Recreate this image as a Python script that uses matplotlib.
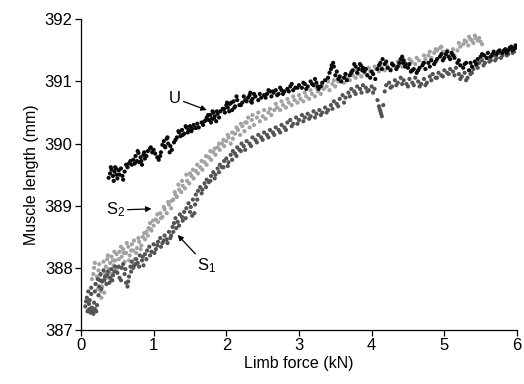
import matplotlib
matplotlib.use("Agg")
import matplotlib.pyplot as plt

plt.rcParams['font.family'] = ['Liberation Sans', 'DejaVu Sans']
plt.rcParams['mathtext.default'] = 'regular'

# ---- Data ----
# U (unstimulated), black
u_x = [0.38, 0.40, 0.42, 0.44, 0.46, 0.47, 0.49, 0.50, 0.52, 0.55, 0.58, 0.60,
       0.64, 0.66, 0.70, 0.72, 0.75, 0.77, 0.79, 0.80, 0.82, 0.84, 0.86, 0.88,
       0.92, 0.95, 0.98, 1.02, 1.05, 1.07, 1.09, 1.12, 1.14, 1.16, 1.18, 1.20, 1.23, 1.25,
       1.28, 1.32, 1.35, 1.37, 1.39, 1.42, 1.45, 1.48, 1.50, 1.52, 1.55, 1.58, 1.62,
       1.66, 1.70, 1.73, 1.76, 1.78, 1.80, 1.82, 1.84, 1.86, 1.88,
       1.92, 1.95, 1.98, 2.00, 2.02, 2.05, 2.08, 2.10, 2.12, 2.15, 2.18,
       2.22, 2.26, 2.30, 2.32, 2.34, 2.36, 2.40, 2.44, 2.48,
       2.52, 2.56, 2.60, 2.62, 2.65, 2.68, 2.72, 2.76, 2.80,
       2.84, 2.88, 2.92, 2.95, 3.00, 3.04, 3.08, 3.12, 3.16, 3.20, 3.24, 3.27, 3.30,
       3.36, 3.42, 3.45, 3.48, 3.50, 3.54, 3.58, 3.62, 3.66, 3.70,
       3.74, 3.78, 3.82, 3.85, 3.88, 3.90, 3.94, 3.98, 4.02, 4.05,
       4.08, 4.12, 4.15, 4.18, 4.22, 4.26, 4.30, 4.34, 4.38,
       4.42, 4.44, 4.47, 4.50, 4.54, 4.58, 4.62, 4.66, 4.70, 4.74,
       4.78, 4.82, 4.86, 4.90, 4.94, 4.98, 5.02, 5.06, 5.10, 5.14,
       5.18, 5.22, 5.26, 5.30, 5.34, 5.38, 5.42, 5.46, 5.50,
       5.55, 5.60, 5.64, 5.68, 5.72, 5.76, 5.80, 5.84, 5.88, 5.92, 5.95, 5.98]
u_y = [389.45, 389.52, 389.58, 389.48, 389.55, 389.62, 389.50, 389.44, 389.57, 389.60, 389.42, 389.55,
       389.62, 389.68, 389.66, 389.74, 389.80, 389.72, 389.85, 389.70, 389.78, 389.66, 389.82, 389.76,
       389.88, 389.92, 389.86, 389.84, 389.78, 389.74, 389.80, 389.98, 390.04, 389.94, 390.08, 390.00, 389.96, 389.90,
       390.02, 390.10, 390.18, 390.12, 390.22, 390.16, 390.26, 390.22, 390.28, 390.20, 390.30, 390.25, 390.26,
       390.34, 390.36, 390.42, 390.38, 390.46, 390.40, 390.50, 390.44, 390.36, 390.48,
       390.52, 390.56, 390.50, 390.62, 390.58, 390.64, 390.54, 390.68, 390.60, 390.70, 390.62,
       390.66, 390.70, 390.74, 390.78, 390.68, 390.72, 390.76, 390.70, 390.74,
       390.78, 390.80, 390.84, 390.76, 390.82, 390.86, 390.80, 390.86, 390.84,
       390.88, 390.92, 390.86, 390.90, 390.94, 390.90, 390.96, 390.92, 391.00, 390.94, 390.98, 390.88, 390.92,
       391.02, 391.14, 391.26, 391.24, 391.10, 391.04, 391.00, 391.06, 391.02, 391.10,
       391.18, 391.24, 391.20, 391.26, 391.22, 391.16, 391.10, 391.06, 391.12, 391.04,
       391.20, 391.30, 391.36, 391.28, 391.22, 391.18, 391.26, 391.20, 391.30,
       391.40, 391.34, 391.28, 391.22, 391.16, 391.20, 391.14, 391.22, 391.26, 391.20,
       391.30, 391.34, 391.28, 391.36, 391.40, 391.34, 391.44, 391.40, 391.46, 391.38,
       391.30, 391.26, 391.22, 391.30, 391.18, 391.24, 391.32, 391.36, 391.40,
       391.42, 391.46, 391.40, 391.48, 391.44, 391.50, 391.46, 391.52, 391.50, 391.56, 391.52, 391.58]
u_x2 = [0.41, 0.45, 0.48, 0.53, 0.57, 0.62, 0.68, 0.74, 0.78, 0.83, 0.87, 0.90, 0.96, 1.00, 1.10,
        1.15, 1.19, 1.22, 1.30, 1.34, 1.40, 1.44, 1.47, 1.53, 1.60, 1.68, 1.72, 1.75, 1.79, 1.81,
        1.83, 1.87, 1.90, 1.97, 2.01, 2.04, 2.07, 2.11, 2.14, 2.20, 2.24, 2.28, 2.33, 2.35, 2.38,
        2.46, 2.54, 2.58, 2.64, 2.70, 2.74, 2.78, 2.86, 2.90, 2.98, 3.06, 3.10, 3.18, 3.22, 3.26,
        3.32, 3.40, 3.44, 3.47, 3.52, 3.56, 3.64, 3.72, 3.76, 3.80, 3.84, 3.87, 3.92, 4.00, 4.10,
        4.14, 4.20, 4.28, 4.36, 4.40, 4.43, 4.46, 4.52, 4.56, 4.64, 4.72, 4.80, 4.88, 4.96, 5.00,
        5.04, 5.08, 5.12, 5.20, 5.28, 5.36, 5.44, 5.52, 5.58, 5.66, 5.74, 5.82, 5.86, 5.90, 5.94, 5.97]
u_y2 = [389.62, 389.40, 389.60, 389.50, 389.48, 389.66, 389.72, 389.68, 389.88, 389.72, 389.86, 389.80, 389.94, 389.90, 389.86,
        389.96, 390.10, 389.86, 390.06, 390.20, 390.14, 390.28, 390.18, 390.24, 390.32, 390.30, 390.38, 390.46, 390.34, 390.52,
        390.40, 390.52, 390.42, 390.56, 390.66, 390.52, 390.66, 390.58, 390.76, 390.62, 390.76, 390.68, 390.82, 390.66, 390.80,
        390.80, 390.74, 390.86, 390.84, 390.78, 390.90, 390.80, 390.84, 390.96, 390.90, 390.98, 390.88, 390.96, 391.04, 390.92,
        390.98, 391.06, 391.20, 391.30, 391.16, 391.08, 391.12, 391.14, 391.28, 391.14, 391.28, 391.18, 391.20, 391.16, 391.26,
        391.20, 391.32, 391.28, 391.24, 391.36, 391.30, 391.24, 391.28, 391.18, 391.18, 391.30, 391.24, 391.32, 391.44, 391.38,
        391.48, 391.36, 391.42, 391.34, 391.28, 391.30, 391.28, 391.44, 391.38, 391.44, 391.48, 391.50, 391.46, 391.54, 391.50, 391.54]

# S2, light grey
s2_x = [0.15, 0.17, 0.18, 0.20, 0.22, 0.24, 0.25, 0.27, 0.28, 0.29, 0.30, 0.31, 0.33, 0.34,
        0.36, 0.38, 0.40, 0.42, 0.43, 0.45, 0.47, 0.49, 0.50,
        0.53, 0.56, 0.58, 0.60, 0.62, 0.65, 0.67, 0.70, 0.72, 0.74, 0.77, 0.80, 0.83, 0.85,
        0.88, 0.90, 0.93, 0.95, 0.97, 1.00, 1.03,
        1.06, 1.09, 1.12, 1.15, 1.18, 1.21, 1.24, 1.27, 1.30, 1.32, 1.35, 1.38, 1.40, 1.43,
        1.46, 1.49, 1.52, 1.55, 1.58, 1.61, 1.64, 1.67, 1.70, 1.73, 1.76, 1.79, 1.82, 1.85,
        1.88, 1.91, 1.94, 1.97, 2.00, 2.03, 2.06, 2.09,
        2.12, 2.16, 2.19, 2.22, 2.25, 2.28, 2.32, 2.35, 2.38, 2.42, 2.46, 2.50, 2.54, 2.58,
        2.62, 2.66, 2.70, 2.74, 2.78, 2.82, 2.86, 2.90, 2.94, 2.98, 3.02, 3.06, 3.10, 3.14,
        3.18, 3.22, 3.26, 3.30, 3.34, 3.38, 3.42, 3.46, 3.50, 3.54, 3.58, 3.62, 3.66, 3.70,
        3.74, 3.78, 3.82, 3.86, 3.90, 3.94, 3.98, 4.02, 4.06, 4.10, 4.14, 4.18, 4.22, 4.26,
        4.30, 4.34, 4.38, 4.42, 4.46, 4.50, 4.55, 4.60, 4.65, 4.70, 4.74, 4.78, 4.82, 4.86,
        4.90, 4.94, 4.98, 5.02, 5.06, 5.10, 5.14, 5.18, 5.22, 5.26, 5.30, 5.33, 5.36, 5.40,
        5.43, 5.46, 5.50, 5.52]
s2_y = [387.82, 387.90, 388.00, 387.74, 387.86, 387.96, 388.06, 387.62, 387.52, 387.70, 387.80, 388.10, 387.92, 388.02,
        388.14, 387.98, 388.08, 388.18, 387.90, 388.04, 388.12, 388.22, 388.00,
        388.26, 388.18, 388.30, 388.10, 388.24, 388.34, 388.20, 388.38, 388.28, 388.14, 388.32, 388.42, 388.36, 388.50,
        388.46, 388.58, 388.64, 388.72, 388.60, 388.68, 388.78,
        388.74, 388.88, 388.82, 388.94, 388.88, 389.02, 388.96, 389.10, 389.18, 389.14, 389.26, 389.22, 389.32, 389.28,
        389.40, 389.36, 389.48, 389.44, 389.56, 389.52, 389.62, 389.58, 389.70, 389.66, 389.78, 389.74, 389.86, 389.82,
        389.94, 389.90, 390.00, 389.96, 390.04, 390.10, 390.00, 390.08,
        390.16, 390.22, 390.14, 390.28, 390.20, 390.34, 390.26, 390.38, 390.30, 390.42, 390.36, 390.44, 390.40, 390.50,
        390.46, 390.54, 390.58, 390.54, 390.62, 390.58, 390.66, 390.62, 390.70, 390.66, 390.72, 390.68, 390.76, 390.72,
        390.80, 390.76, 390.84, 390.80, 390.88, 390.92, 390.86, 390.96, 390.92, 391.00, 391.04, 390.98, 391.06, 391.02,
        391.10, 391.06, 391.12, 391.08, 391.14, 391.10, 391.16, 391.12, 391.20, 391.16, 391.22, 391.18, 391.24, 391.20,
        391.26, 391.22, 391.28, 391.24, 391.30, 391.26, 391.32, 391.28, 391.34, 391.30, 391.36, 391.42, 391.38, 391.46,
        391.50, 391.54, 391.48, 391.44, 391.40, 391.46, 391.42, 391.50, 391.56, 391.60, 391.64, 391.58, 391.68, 391.62,
        391.70, 391.66, 391.64, 391.60]
s2_x2 = [0.19, 0.23, 0.26, 0.32, 0.35, 0.37, 0.39, 0.41, 0.44, 0.46, 0.48, 0.52, 0.55, 0.59, 0.63,
         0.66, 0.69, 0.73, 0.76, 0.79, 0.82, 0.87, 0.92, 0.96, 0.99, 1.05, 1.10, 1.14, 1.20, 1.25,
         1.29, 1.34, 1.39, 1.45, 1.50, 1.54, 1.60, 1.66, 1.72, 1.78, 1.84, 1.90, 1.96, 2.02, 2.08,
         2.14, 2.20, 2.26, 2.30, 2.36, 2.44, 2.52, 2.60, 2.68, 2.76, 2.84, 2.92, 3.00, 3.08, 3.16,
         3.24, 3.32, 3.40, 3.48, 3.56, 3.64, 3.72, 3.80, 3.88, 3.96, 4.04, 4.12, 4.20, 4.28, 4.36,
         4.44, 4.52, 4.62, 4.72, 4.80, 4.88, 4.96, 5.04, 5.12, 5.20, 5.28, 5.34, 5.38, 5.42, 5.48]
s2_y2 = [388.08, 387.66, 387.88, 387.60, 387.84, 388.20, 387.92, 387.80, 388.12, 388.26, 387.96, 388.14, 388.34, 388.24, 388.40,
         388.12, 388.28, 388.44, 388.24, 388.48, 388.30, 388.56, 388.52, 388.62, 388.76, 388.86, 388.80, 388.98, 389.06, 389.08,
         389.22, 389.34, 389.40, 389.50, 389.52, 389.58, 389.66, 389.72, 389.80, 389.88, 389.92, 390.00, 390.06, 390.14, 390.18,
         390.26, 390.32, 390.34, 390.42, 390.46, 390.50, 390.54, 390.56, 390.64, 390.68, 390.72, 390.76, 390.78, 390.82, 390.86,
         390.90, 390.94, 391.00, 391.02, 391.08, 391.12, 391.16, 391.18, 391.20, 391.22, 391.24, 391.26, 391.28, 391.30, 391.32,
         391.34, 391.36, 391.38, 391.42, 391.48, 391.52, 391.56, 391.50, 391.52, 391.62, 391.66, 391.72, 391.66, 391.74, 391.70]

# S1, dark grey
s1_x = [0.06, 0.08, 0.09, 0.10, 0.11, 0.12, 0.13, 0.14, 0.15, 0.16, 0.18, 0.19, 0.20, 0.21, 0.22, 0.23,
        0.25, 0.27, 0.29, 0.31, 0.33, 0.35, 0.37, 0.40, 0.42, 0.44, 0.47, 0.50, 0.53, 0.56, 0.58,
        0.60, 0.62, 0.64, 0.66, 0.68, 0.70, 0.73, 0.76, 0.78, 0.81, 0.84, 0.86, 0.88, 0.91, 0.94,
        0.97, 1.00, 1.03, 1.06, 1.09, 1.12, 1.15, 1.18, 1.21, 1.24, 1.26, 1.28, 1.30, 1.33, 1.36,
        1.39, 1.42, 1.45, 1.48, 1.51, 1.54, 1.56, 1.58, 1.61, 1.64, 1.67, 1.70, 1.73, 1.76, 1.79,
        1.82, 1.85, 1.88, 1.91, 1.94, 1.97, 2.00, 2.03, 2.06, 2.09, 2.12, 2.15, 2.18, 2.21, 2.24,
        2.28, 2.32, 2.36, 2.40, 2.44, 2.48, 2.52, 2.56, 2.60, 2.64, 2.68, 2.72, 2.76, 2.80, 2.84,
        2.88, 2.92, 2.96, 3.00, 3.04, 3.08, 3.12, 3.16, 3.20, 3.24, 3.28, 3.32, 3.36, 3.40, 3.44,
        3.48, 3.52, 3.56, 3.60, 3.64, 3.68, 3.72, 3.76, 3.80, 3.84, 3.88, 3.92, 3.96, 4.00, 4.04,
        4.08, 4.10, 4.12, 4.14, 4.16, 4.20, 4.24, 4.28, 4.32, 4.36, 4.40, 4.44, 4.48, 4.52, 4.56,
        4.60, 4.64, 4.68, 4.72, 4.76, 4.80, 4.84, 4.88, 4.92, 4.96, 5.00, 5.04, 5.08, 5.12, 5.16,
        5.20, 5.24, 5.28, 5.32, 5.36, 5.40, 5.44, 5.48, 5.52, 5.56, 5.60, 5.64, 5.68, 5.72, 5.76,
        5.80, 5.84, 5.88, 5.92, 5.96, 5.99]
s1_y = [387.38, 387.52, 387.30, 387.62, 387.42, 387.34, 387.28, 387.68, 387.36, 387.30, 387.44, 387.34, 387.74, 387.30, 387.40, 387.82,
        387.70, 387.90, 387.78, 387.96, 387.86, 387.74, 387.94, 387.84, 387.98, 387.88, 388.02, 387.92, 387.84, 388.00, 388.06,
        387.90, 387.76, 387.70, 387.86, 388.02, 388.10, 388.04, 388.14, 388.08, 388.20, 388.12, 388.04, 388.22, 388.28, 388.34,
        388.26, 388.38, 388.30, 388.42, 388.48, 388.40, 388.52, 388.46, 388.58, 388.52, 388.66, 388.72, 388.80, 388.74, 388.86,
        388.82, 388.90, 388.96, 389.04, 388.98, 389.10, 388.88, 389.18, 389.24, 389.30, 389.26, 389.36, 389.42, 389.38, 389.48,
        389.54, 389.50, 389.60, 389.66, 389.62, 389.72, 389.76, 389.70, 389.82, 389.88, 389.84, 389.94, 389.90, 390.00, 389.96,
        390.04, 390.00, 390.10, 390.06, 390.14, 390.10, 390.18, 390.14, 390.22, 390.18, 390.26, 390.22, 390.30, 390.26, 390.34,
        390.38, 390.32, 390.42, 390.38, 390.46, 390.42, 390.48, 390.44, 390.52, 390.48, 390.54, 390.50, 390.58, 390.54, 390.62,
        390.68, 390.64, 390.72, 390.78, 390.74, 390.82, 390.88, 390.84, 390.92, 390.88, 390.94, 390.90, 390.86, 390.92, 390.88,
        390.70, 390.60, 390.52, 390.44, 390.62, 390.94, 390.98, 390.92, 391.02, 390.98, 391.06, 391.02, 390.96, 391.04, 390.98,
        391.06, 391.00, 390.96, 391.04, 390.98, 391.08, 391.12, 391.06, 391.14, 391.10, 391.18, 391.14, 391.20, 391.16, 391.22,
        391.12, 391.08, 391.14, 391.06, 391.12, 391.20, 391.26, 391.30, 391.34, 391.30, 391.38, 391.34, 391.42, 391.38, 391.46,
        391.42, 391.48, 391.44, 391.52, 391.48, 391.54]
s1_x2 = [0.07, 0.10, 0.12, 0.14, 0.17, 0.19, 0.24, 0.26, 0.28, 0.32, 0.36, 0.39, 0.43, 0.46, 0.52,
         0.55, 0.61, 0.65, 0.69, 0.72, 0.75, 0.80, 0.85, 0.90, 0.95, 1.01, 1.05, 1.10, 1.14, 1.19,
         1.23, 1.27, 1.31, 1.35, 1.40, 1.44, 1.50, 1.53, 1.57, 1.60, 1.66, 1.72, 1.78, 1.84, 1.90,
         1.96, 2.02, 2.08, 2.14, 2.20, 2.26, 2.34, 2.42, 2.50, 2.58, 2.66, 2.74, 2.82, 2.90, 2.98,
         3.06, 3.14, 3.22, 3.30, 3.38, 3.46, 3.54, 3.62, 3.70, 3.78, 3.86, 3.94, 4.02, 4.11, 4.13,
         4.18, 4.26, 4.34, 4.42, 4.50, 4.58, 4.66, 4.74, 4.82, 4.90, 4.98, 5.06, 5.14, 5.22, 5.30,
         5.38, 5.46, 5.54, 5.62, 5.70, 5.78, 5.86, 5.94]
s1_y2 = [387.46, 387.32, 387.48, 387.58, 387.26, 387.62, 387.56, 387.80, 387.66, 387.80, 387.88, 387.76, 387.80, 387.94, 388.02,
         387.80, 387.98, 387.78, 387.94, 388.00, 388.06, 388.02, 388.18, 388.14, 388.20, 388.24, 388.36, 388.34, 388.44, 388.40,
         388.48, 388.58, 388.64, 388.68, 388.76, 388.80, 388.90, 388.84, 389.02, 389.10, 389.20, 389.30, 389.40, 389.44, 389.54,
         389.62, 389.64, 389.74, 389.80, 389.88, 389.90, 389.96, 390.02, 390.06, 390.10, 390.14, 390.18, 390.22, 390.28, 390.32,
         390.36, 390.40, 390.42, 390.46, 390.50, 390.56, 390.60, 390.66, 390.76, 390.80, 390.82, 390.84, 390.82, 390.56, 390.48,
         390.84, 390.90, 390.94, 390.96, 390.92, 390.94, 390.92, 390.94, 391.02, 391.06, 391.08, 391.12, 391.10, 391.04, 391.02,
         391.14, 391.22, 391.26, 391.32, 391.34, 391.38, 391.42, 391.46]

x_ticks = [0, 1, 2, 3, 4, 5, 6]
y_ticks = [387, 388, 389, 390, 391, 392]

# ---- Figure ----
fig = plt.figure(figsize=(5.24, 3.84), dpi=100)
ax = fig.add_axes([0.1546, 0.1406, 0.832, 0.809])

ms = 9
ax.scatter(s2_x + s2_x2, s2_y + s2_y2, s=ms, color='#a2a2a2', edgecolors='none', zorder=2)
ax.scatter(s1_x + s1_x2, s1_y + s1_y2, s=ms, color='#545454', edgecolors='none', zorder=3)
ax.scatter(u_x + u_x2, u_y + u_y2, s=ms, color='#0a0a0a', edgecolors='none', zorder=4)

ax.set_xlim(0, 6)
ax.set_ylim(387, 392)
ax.set_xticks(x_ticks)
ax.set_yticks(y_ticks)
ax.tick_params(direction='out', length=4, width=0.9, labelsize=12, pad=2)
for side in ('top', 'right'):
    ax.spines[side].set_visible(False)
for side in ('left', 'bottom'):
    ax.spines[side].set_linewidth(0.9)

ax.set_xlabel('Limb force (kN)', fontsize=11.5, labelpad=2)
ax.set_ylabel('Muscle length (mm)', fontsize=11.5, labelpad=4)

arrow = dict(arrowstyle='-|>', color='black', lw=0.9, mutation_scale=8, shrinkA=0, shrinkB=0)
ax.annotate('U', xy=(1.73, 390.54), xytext=(1.29, 390.73), fontsize=12,
            ha='center', va='center', arrowprops=arrow)
ax.annotate('S$_2$', xy=(0.97, 388.95), xytext=(0.47, 388.93), fontsize=12,
            ha='center', va='center', arrowprops=arrow)
ax.annotate('S$_1$', xy=(1.33, 388.53), xytext=(1.73, 388.03), fontsize=12,
            ha='center', va='center', arrowprops=arrow)

fig.savefig('out.png', dpi=100)
